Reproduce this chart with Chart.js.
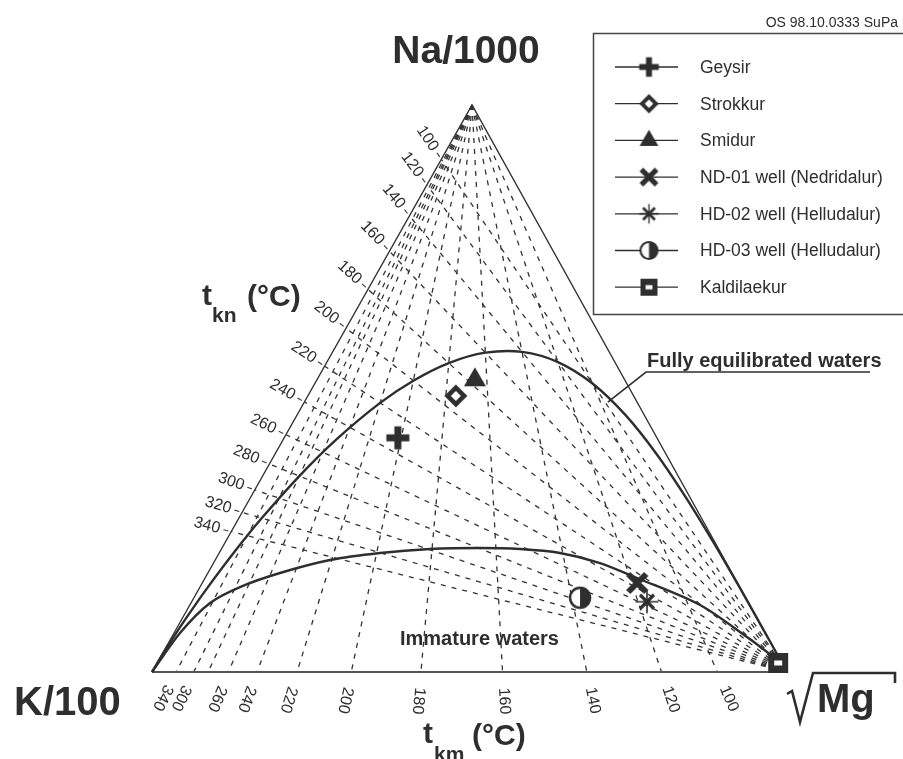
<!DOCTYPE html>
<html>
<head>
<meta charset="utf-8">
<script src="https://cdn.jsdelivr.net/npm/chart.js@4/dist/chart.umd.min.js"></script>
<style>
  html, body { margin: 0; padding: 0; background: #fff; }
  canvas { display: block; }
</style>
</head>
<body>
<canvas id="giggenbach" width="903" height="759"></canvas>
<script>
// ---- Sample compositions (percent of Na/1000, K/100 and sqrt(Mg)) ----
const sampleNames = ['Geysir', 'Strokkur', 'Smidur', 'ND-01 well (Nedridalur)',
                     'HD-02 well (Helludalur)', 'HD-03 well (Helludalur)', 'Kaldilaekur'];
const sampleNa = [41.3, 48.7, 51.5, 15.7, 12.4, 13.1, 1.6];
const sampleK  = [40.8, 28.0, 23.6, 15.8, 15.9, 26.1, 0.6];
const sampleMg = [17.9, 23.3, 24.9, 68.5, 71.7, 60.8, 97.8];
const sampleMarks = ['plus', 'diamond', 'triangle', 'x', 'star', 'half', 'square'];

// ---- Na-K isotherms (t_kn): K share where each line meets the Na-K side ----
const tknTemps = [100, 120, 140, 160, 180, 200, 220, 240, 260, 280, 300, 320, 340];
const tknEdgeK = [9.58, 14.08, 19.54, 25.79, 32.51, 39.36, 46.06, 52.37, 58.15, 63.32, 67.87, 71.84, 75.25];

// ---- K-Mg isotherms (t_km): Mg share where each line meets the K-Mg side ----
const tkmTemps  = [100, 120, 140, 160, 180, 200, 220, 240, 260, 280, 300, 340];
const tkmEdgeMg = [89.02, 80.24, 68.48, 55.20, 42.35, 31.38, 22.84, 16.54, 12.03, 8.83, 6.57, 3.80];
const tkmTickLabels = ['100', '120', '140', '160', '180', '200', '220', '240', '260', '', '300', '340'];

// ---- Full equilibrium curve (Mg corner -> K corner) ----
const fullNa = [0, 5.38, 9.69, 15.58, 22.73, 30.55, 38.33, 45.30, 50.89, 54.67, 56.47, 56.32,
                54.49, 51.39, 47.47, 40.95, 34.56, 27.15, 21.30, 15.06, 9.98, 5.38, 2.15, 0];
const fullK  = [0, 0.00, 0.02, 0.07, 0.23, 0.63, 1.45, 2.95, 5.39, 8.96, 13.72, 19.57,
                26.24, 33.36, 40.53, 50.73, 59.66, 69.24, 76.38, 83.67, 89.39, 94.39, 97.80, 100];
const fullMg = [100, 94.62, 90.29, 84.35, 77.04, 68.82, 60.22, 51.75, 43.72, 36.37, 29.82, 24.11,
                19.27, 15.26, 12.00, 8.32, 5.78, 3.61, 2.32, 1.27, 0.64, 0.23, 0.05, 0];

// ---- Immature waters boundary (K corner -> Mg corner) ----
const immNa = [0, 6.88, 12.17, 14.99, 17.46, 19.75, 20.99, 21.69, 21.87, 21.69, 20.99, 19.22, 16.58, 11.82, 6.17, 2.65, 0];
const immK  = [100, 92.18, 84.80, 78.71, 71.18, 62.17, 53.69, 45.46, 37.50, 31.29, 25.34, 19.91, 15.40, 7.83, 3.25, 0.89, 0];
const immMg = [0, 0.94, 3.00, 6.30, 11.36, 18.08, 25.32, 32.85, 40.63, 47.02, 53.67, 60.87, 68.02, 80.35, 90.58, 96.46, 100];

// Point on the full equilibrium curve that the annotation leader starts from
const leaderAnchor = [47.6, 4.6, 47.8];

// ---- Ternary -> cartesian (K corner at 0,0; Mg corner at 1,0; Na apex at APEX_U,1) ----
const APEX_U = 0.504;
const X_RANGE = [-0.2394, 1.1827];
const Y_RANGE = [-0.1534, 1.1852];
function toXY(na, k, mg) {
  const s = na + k + mg;
  return { x: (mg + na * APEX_U) / s, y: na / s };
}

const INK = '#2e2e2e';
const FONT = '"Liberation Sans", Arial, Helvetica, sans-serif';

// ---- Marker glyphs, drawn once into small canvases ----
function markerCanvas(kind, scale) {
  const size = Math.ceil(34 * scale);
  const c = document.createElement('canvas');
  c.width = size; c.height = size;
  const g = c.getContext('2d');
  g.translate(size / 2, size / 2);
  g.scale(scale, scale);
  g.fillStyle = INK; g.strokeStyle = INK; g.lineCap = 'butt';
  switch (kind) {
    case 'plus':
      g.fillRect(-11.5, -3.5, 23, 7);
      g.fillRect(-3.5, -11.5, 7, 23);
      break;
    case 'diamond':
      g.beginPath(); g.moveTo(0, -11.5); g.lineTo(11.5, 0); g.lineTo(0, 11.5); g.lineTo(-11.5, 0); g.closePath(); g.fill();
      g.fillStyle = '#fff';
      g.beginPath(); g.moveTo(0, -5); g.lineTo(5, 0); g.lineTo(0, 5); g.lineTo(-5, 0); g.closePath(); g.fill();
      break;
    case 'triangle':
      g.beginPath(); g.moveTo(0, -12.7); g.lineTo(11, 6.35); g.lineTo(-11, 6.35); g.closePath(); g.fill();
      break;
    case 'x':
      g.lineWidth = 6;
      g.beginPath(); g.moveTo(-9, -9); g.lineTo(9, 9); g.moveTo(9, -9); g.lineTo(-9, 9); g.stroke();
      break;
    case 'star':
      g.lineWidth = 1.6;
      g.beginPath(); g.moveTo(0, -11.5); g.lineTo(0, 11.5); g.moveTo(-11.5, 0); g.lineTo(11.5, 0); g.stroke();
      g.lineWidth = 3.2;
      g.beginPath(); g.moveTo(-7, -7); g.lineTo(7, 7); g.moveTo(7, -7); g.lineTo(-7, 7); g.stroke();
      break;
    case 'half':
      g.fillStyle = '#fff';
      g.beginPath(); g.arc(0, 0, 10, 0, Math.PI * 2); g.fill();
      g.fillStyle = INK;
      g.beginPath(); g.arc(0, 0, 10, -Math.PI / 2, Math.PI / 2); g.closePath(); g.fill();
      g.lineWidth = 2.5;
      g.beginPath(); g.arc(0, 0, 10, 0, Math.PI * 2); g.stroke();
      break;
    case 'square':
      g.fillRect(-10, -10, 20, 20);
      g.fillStyle = '#fff';
      g.fillRect(-4, -2.5, 8, 5);
      break;
  }
  return c;
}
const chartMarks = {};
const legendMarks = {};
sampleMarks.forEach(m => { chartMarks[m] = markerCanvas(m, 1); legendMarks[m] = markerCanvas(m, 0.85); });

// ---- Datasets ----
const datasets = [];
const dashStyle = { borderColor: '#333', borderWidth: 1.3, borderDash: [5, 6] };
function lineSet(points, style, order) {
  return Object.assign({ data: points, showLine: true, pointRadius: 0, pointHoverRadius: 0,
                         fill: false, tension: 0, order: order }, style);
}

// t_kn lines radiate from the Mg corner
tknTemps.forEach((t, i) => {
  datasets.push(lineSet([toXY(0, 0, 100), toXY(100 - tknEdgeK[i], tknEdgeK[i], 0)], dashStyle, 4));
});
// t_km lines radiate from the Na apex
tkmTemps.forEach((t, i) => {
  datasets.push(lineSet([toXY(100, 0, 0), toXY(0, 100 - tkmEdgeMg[i], tkmEdgeMg[i])], dashStyle, 4));
});
// triangle frame
datasets.push(lineSet([toXY(0, 100, 0), toXY(100, 0, 0), toXY(0, 0, 100)],
                      { borderColor: '#333', borderWidth: 1.4 }, 3));
datasets.push(lineSet([toXY(0, 100, 0), toXY(0, 0, 100)],
                      { borderColor: '#555', borderWidth: 2.2 }, 3));
// equilibrium curves
datasets.push(lineSet(fullNa.map((v, i) => toXY(v, fullK[i], fullMg[i])),
                      { borderColor: INK, borderWidth: 2.4, tension: 0.3 }, 2));
datasets.push(lineSet(immNa.map((v, i) => toXY(v, immK[i], immMg[i])),
                      { borderColor: INK, borderWidth: 2.4, tension: 0.3 }, 2));
// samples
sampleNames.forEach((name, i) => {
  datasets.push({
    label: name,
    data: [toXY(sampleNa[i], sampleK[i], sampleMg[i])],
    showLine: false,
    pointStyle: chartMarks[sampleMarks[i]],
    pointRadius: 12,
    order: 0
  });
});

// ---- Annotation layer: labels, ticks, legend ----
function drawText(ctx, str, x, y, font, opts = {}) {
  ctx.save();
  ctx.font = font;
  ctx.fillStyle = opts.color || INK;
  ctx.textAlign = opts.align || 'left';
  ctx.textBaseline = opts.baseline || 'alphabetic';
  ctx.translate(x, y);
  if (opts.rotate) ctx.rotate(opts.rotate);
  ctx.fillText(str, 0, 0);
  ctx.restore();
}

const annotations = {
  id: 'annotations',
  afterDatasetsDraw(chart) {
    const ctx = chart.ctx;
    const xs = chart.scales.x, ys = chart.scales.y;
    const px = (na, k, mg) => {
      const p = toXY(na, k, mg);
      return { x: xs.getPixelForValue(p.x), y: ys.getPixelForValue(p.y) };
    };
    const unit = (a, b) => { const dx = a.x - b.x, dy = a.y - b.y, l = Math.hypot(dx, dy); return { x: dx / l, y: dy / l }; };
    const mgCorner = px(0, 0, 100), naApex = px(100, 0, 0);

    // t_kn scale along the Na-K side
    ctx.save();
    ctx.strokeStyle = '#3c3c3c'; ctx.lineWidth = 1.1;
    tknTemps.forEach((t, i) => {
      const e = px(100 - tknEdgeK[i], tknEdgeK[i], 0);
      const u = unit(e, mgCorner);
      ctx.beginPath(); ctx.moveTo(e.x + u.x * 3, e.y + u.y * 3); ctx.lineTo(e.x + u.x * 8, e.y + u.y * 8); ctx.stroke();
      drawText(ctx, String(t), e.x + u.x * 25, e.y + u.y * 25, '16px ' + FONT,
               { align: 'center', baseline: 'middle', rotate: Math.atan2(-u.y, -u.x) });
    });
    // t_km scale below the K-Mg side
    tkmTemps.forEach((t, i) => {
      if (!tkmTickLabels[i]) return;
      const e = px(0, 100 - tkmEdgeMg[i], tkmEdgeMg[i]);
      const u = unit(e, naApex);
      drawText(ctx, tkmTickLabels[i], e.x + u.x * 29, e.y + u.y * 29, '16px ' + FONT,
               { align: 'center', baseline: 'middle', rotate: Math.atan2(u.y, u.x) });
    });
    ctx.restore();

    // corner titles
    drawText(ctx, 'Na/1000', 466, 63, 'bold 39px ' + FONT, { align: 'center' });
    drawText(ctx, 'K/100', 14, 715, 'bold 40px ' + FONT);
    drawText(ctx, 'Mg', 817, 712, 'bold 40px ' + FONT);
    ctx.save();
    ctx.strokeStyle = INK; ctx.lineWidth = 2.6; ctx.lineJoin = 'miter';
    ctx.beginPath();
    ctx.moveTo(787, 694); ctx.lineTo(792, 691); ctx.lineTo(800, 722); ctx.lineTo(813, 673);
    ctx.lineTo(895, 673); ctx.lineTo(895, 683);
    ctx.stroke();
    ctx.restore();

    // axis temperature titles
    drawText(ctx, 't', 202, 305, 'bold 30px ' + FONT);
    drawText(ctx, 'kn', 212, 322, 'bold 21px ' + FONT);
    drawText(ctx, '(°C)', 247, 306, 'bold 30px ' + FONT);
    drawText(ctx, 't', 423, 743, 'bold 30px ' + FONT);
    drawText(ctx, 'km', 434, 761, 'bold 21px ' + FONT);
    drawText(ctx, '(°C)', 472, 745, 'bold 30px ' + FONT);

    // field labels
    drawText(ctx, 'Immature waters', 400, 645, 'bold 20px ' + FONT);
    drawText(ctx, 'Fully equilibrated waters', 647, 367, 'bold 20px ' + FONT);
    const a = px(leaderAnchor[0], leaderAnchor[1], leaderAnchor[2]);
    ctx.save();
    ctx.strokeStyle = INK; ctx.lineWidth = 1.6;
    ctx.beginPath(); ctx.moveTo(a.x, a.y); ctx.lineTo(646, 372); ctx.lineTo(870, 372); ctx.stroke();
    ctx.restore();

    // reference code
    drawText(ctx, 'OS 98.10.0333 SuPa', 898, 27, '14px ' + FONT, { align: 'right' });

    // legend
    ctx.save();
    ctx.strokeStyle = '#444'; ctx.lineWidth = 1.5;
    ctx.strokeRect(593.5, 33.5, 330, 281);
    ctx.strokeStyle = INK; ctx.lineWidth = 1.3;
    sampleNames.forEach((name, i) => {
      const y = 67 + i * 36.7;
      ctx.beginPath(); ctx.moveTo(615, y); ctx.lineTo(678, y); ctx.stroke();
      const m = legendMarks[sampleMarks[i]];
      ctx.drawImage(m, 649 - m.width / 2, y - m.height / 2);
      drawText(ctx, name, 700, y + 1, '17.5px ' + FONT, { baseline: 'middle' });
    });
    ctx.restore();
  }
};

new Chart(document.getElementById('giggenbach'), {
  type: 'scatter',
  data: { datasets },
  options: {
    responsive: false,
    animation: false,
    devicePixelRatio: 1,
    layout: { padding: 0, autoPadding: false },
    events: [],
    scales: {
      x: { type: 'linear', display: false, min: X_RANGE[0], max: X_RANGE[1] },
      y: { type: 'linear', display: false, min: Y_RANGE[0], max: Y_RANGE[1] }
    },
    plugins: { legend: { display: false }, tooltip: { enabled: false }, title: { display: false } }
  },
  plugins: [annotations]
});
</script>
</body>
</html>
